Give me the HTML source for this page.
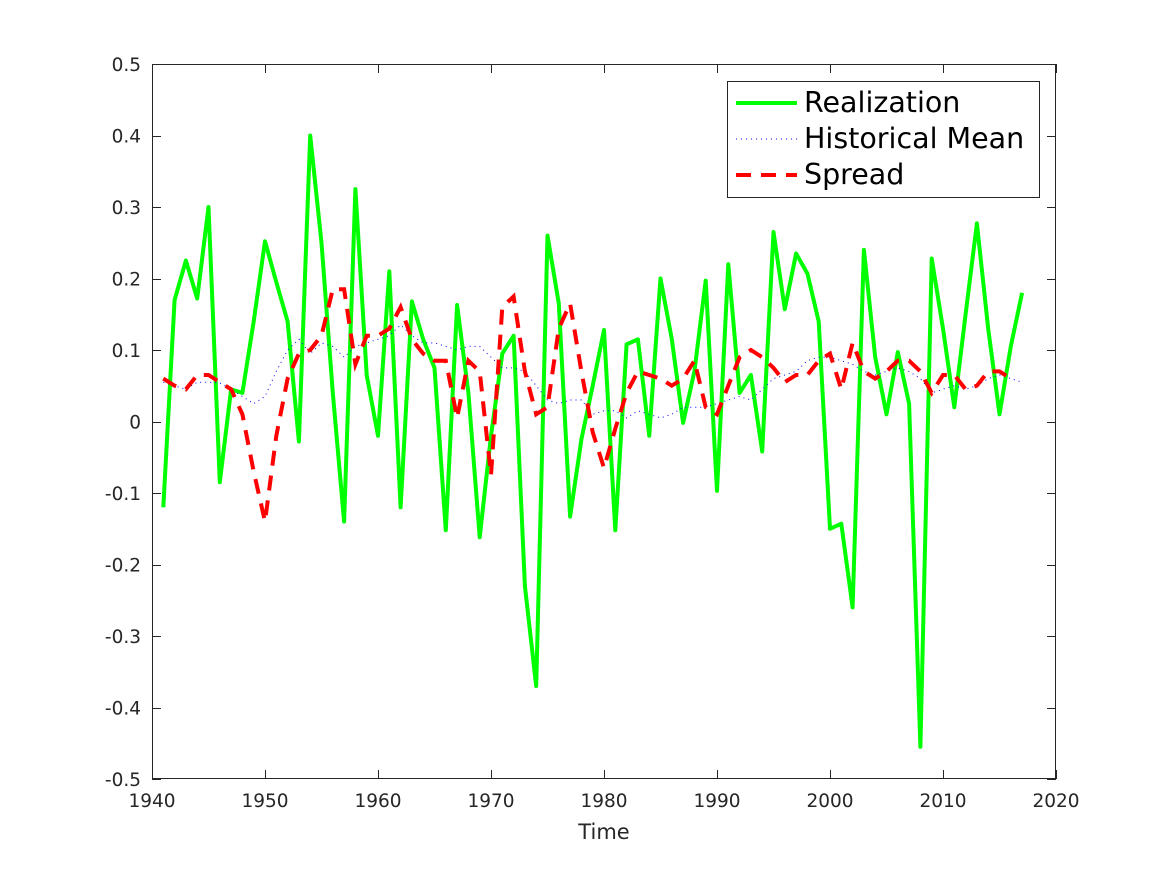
<!DOCTYPE html>
<html><head><meta charset="utf-8"><style>
body{margin:0;background:#fff}
svg{display:block;font-family:"DejaVu Sans","Liberation Sans",sans-serif}
</style></head><body>
<svg id="chart" width="1167" height="875">
<rect x="0" y="0" width="1167" height="875" fill="#fff"/>
<rect x="152" y="64" width="904" height="715" fill="#fff"/>
<g id="series"></g>
<g id="axes"></g>
<text x="604" y="839" font-size="21" text-anchor="middle" fill="#262626">Time</text>
<g>
<rect x="727.5" y="81.5" width="312" height="116" fill="#fff" stroke="#262626" stroke-width="1"/>
<line x1="736" y1="103" x2="797" y2="103" stroke="#00ff00" stroke-width="4"/>
<text x="804" y="112" font-size="28.5" fill="#000">Realization</text>
<line x1="736" y1="139" x2="797" y2="139" stroke="#0000ff" stroke-width="1" stroke-dasharray="1,4"/>
<text x="804" y="148" font-size="28.5" fill="#000">Historical Mean</text>
<line x1="736" y1="175" x2="797" y2="175" stroke="#ff0000" stroke-width="4" stroke-dasharray="15,10"/>
<text x="804" y="184" font-size="28.5" fill="#000">Spread</text>
</g>
</svg>
<script>
const startYear = 1941;
const realization = [-0.12,0.17,0.225,0.172,0.30,-0.085,0.045,0.04,0.14,0.252,0.195,0.14,-0.028,0.40,0.25,0.04,-0.14,0.325,0.065,-0.02,0.21,-0.12,0.168,0.115,0.075,-0.152,0.163,0.04,-0.162,-0.02,0.095,0.12,-0.23,-0.37,0.26,0.165,-0.133,-0.025,0.05,0.128,-0.152,0.108,0.115,-0.02,0.20,0.115,-0.002,0.07,0.197,-0.097,0.22,0.04,0.065,-0.042,0.265,0.157,0.235,0.207,0.14,-0.15,-0.143,-0.26,0.24,0.09,0.01,0.097,0.025,-0.455,0.228,0.13,0.02,0.15,0.277,0.13,0.01,0.105,0.18];
const historicalMean = [0.055,0.05,0.045,0.055,0.055,0.054,0.045,0.035,0.025,0.035,0.07,0.1,0.115,0.095,0.11,0.105,0.09,0.105,0.11,0.115,0.12,0.135,0.12,0.11,0.11,0.105,0.1,0.105,0.105,0.09,0.075,0.075,0.07,0.05,0.03,0.025,0.03,0.03,0.01,0.015,0.015,0.005,0.015,0.01,0.005,0.01,0.02,0.02,0.02,0.025,0.03,0.035,0.03,0.045,0.06,0.065,0.07,0.085,0.09,0.09,0.085,0.08,0.07,0.065,0.07,0.075,0.07,0.06,0.04,0.045,0.05,0.045,0.05,0.06,0.065,0.06,0.055];
const spread = [0.06,0.05,0.045,0.065,0.065,0.055,0.045,0.01,-0.07,-0.14,-0.02,0.06,0.095,0.1,0.12,0.185,0.185,0.08,0.12,0.12,0.13,0.16,0.115,0.095,0.085,0.085,0.005,0.085,0.07,-0.075,0.16,0.175,0.07,0.01,0.02,0.13,0.165,0.07,-0.015,-0.065,-0.01,0.04,0.07,0.065,0.06,0.05,0.06,0.085,0.02,0.01,0.05,0.09,0.1,0.09,0.075,0.055,0.065,0.065,0.085,0.095,0.045,0.11,0.07,0.06,0.07,0.085,0.085,0.07,0.04,0.065,0.065,0.045,0.05,0.07,0.07,0.06];
const xTicks = [1940,1950,1960,1970,1980,1990,2000,2010,2020];
const yTicks = [-0.5,-0.4,-0.3,-0.2,-0.1,0,0.1,0.2,0.3,0.4,0.5];
const yTickLabels = ["-0.5","-0.4","-0.3","-0.2","-0.1","0","0.1","0.2","0.3","0.4","0.5"];

const L=152,R=1056,T=64,B=779;
const xs = y => L + (y-1940)/(2020-1940)*(R-L);
const ys = v => B - (v+0.5)/1.0*(B-T);
const NS="http://www.w3.org/2000/svg";
const sg=document.getElementById('series'), ag=document.getElementById('axes');
function mk(tag,attrs,parent){const e=document.createElementNS(NS,tag);for(const k in attrs)e.setAttribute(k,attrs[k]);parent.appendChild(e);return e;}
function pts(arr){return arr.map((v,i)=>xs(startYear+i).toFixed(1)+','+ys(v).toFixed(1)).join(' ');}
let p=mk('polyline',{points:pts(realization),fill:'none',stroke:'#00ff00','stroke-width':4,'stroke-linejoin':'round'},sg);


p=mk('polyline',{points:pts(historicalMean),fill:'none',stroke:'#0000ff','stroke-width':1,'stroke-dasharray':'1,4'},sg);


p=mk('polyline',{points:pts(spread),fill:'none',stroke:'#ff0000','stroke-width':4,'stroke-dasharray':'15,10'},sg);


let box=mk('rect',{x:L+0.5,y:T+0.5,width:R-L-1,height:B-T-1,fill:'none',stroke:'#262626','stroke-width':1},ag);


xTicks.forEach(t=>{const x=Math.round(xs(t))+0.5;
 let l=mk('path',{d:`M${x},${B} v-9 M${x},${T} v9`,stroke:'#262626','stroke-width':1},ag);
 
 
 let tx=mk('text',{x:xs(t),y:B+28,'font-size':18.5,'text-anchor':'middle',fill:'#262626'},ag);tx.textContent=t;
 
 
});
yTicks.forEach((t,i)=>{const y=Math.round(ys(t))+0.5;
 let l=mk('path',{d:`M${L},${y} h9 M${R},${y} h-9`,stroke:'#262626','stroke-width':1},ag);
 
 
 let tx=mk('text',{x:L-11,y:ys(t)+7,'font-size':18.5,'text-anchor':'end',fill:'#262626'},ag);tx.textContent=yTickLabels[i];
 
 
});
</script>
</body></html>
